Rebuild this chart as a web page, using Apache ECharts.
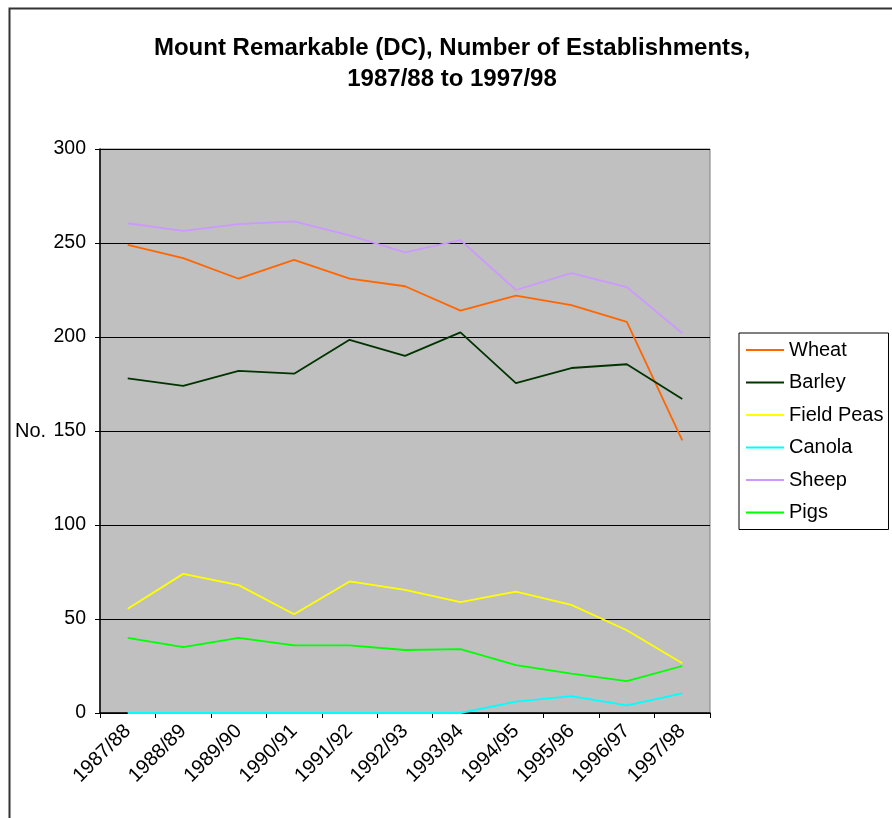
<!DOCTYPE html>
<html><head><meta charset="utf-8">
<script src="https://cdn.jsdelivr.net/npm/echarts@6/dist/echarts.min.js"></script>
<style>html,body{margin:0;padding:0;background:#fff}#c{width:892px;height:818px}</style>
</head><body><div id="c"></div>
<script>
var categories = ['1987/88','1988/89','1989/90','1990/91','1991/92','1992/93','1993/94','1994/95','1995/96','1996/97','1997/98'];
var wheat     = [249, 242, 231, 241, 231, 227, 214, 222, 217, 208, 145];
var barley    = [178, 174, 182, 180.5, 198.5, 190, 202.5, 175.5, 183.5, 185.5, 167];
var fieldPeas = [55.5, 74, 68, 52.5, 70, 65.5, 59, 64.5, 57.5, 44, 26.5];
var canola    = [0, 0, 0, 0, 0, 0, 0, 6, 9, 4, 10.5];
var sheep     = [260.5, 256.5, 260, 261.5, 254, 245, 251.5, 225, 234, 226.5, 202];
var pigs      = [40, 35, 40, 36, 36, 33.5, 34, 25.5, 21, 17, 25];
var yTicks = {min: 0, max: 300, interval: 50};

var FONT = '"Liberation Sans", Arial, sans-serif';
function mk(name, data, color) {
  return {name: name, type: 'line', data: data, symbol: 'none',
    lineStyle: {color: color, width: 1.8}, itemStyle: {color: color}, animation: false};
}
var chart = echarts.init(document.getElementById('c'), null, {renderer: 'canvas'});
chart.setOption({
  animation: false,
  title: {
    text: 'Mount Remarkable (DC), Number of Establishments,\n1987/88 to 1997/98',
    left: 447, textAlign: 'center', top: 28,
    textStyle: {fontFamily: FONT, fontSize: 24, fontWeight: 'bold', color: '#000', lineHeight: 31}
  },
  grid: {left: 100, top: 149, width: 610, height: 564, show: true,
    backgroundColor: '#c0c0c0', borderColor: '#808080', borderWidth: 1},
  legend: {
    orient: 'vertical', left: 739, top: 333,
    padding: [7, 5, 7, 7], borderColor: '#000', borderWidth: 1,
    icon: 'rect', itemWidth: 38, itemHeight: 1.8, itemGap: 12.5,
    textStyle: {fontFamily: FONT, fontSize: 20, lineHeight: 20, color: '#000', padding: [0, 0, 0, 0]},
    data: ['Wheat','Barley','Field Peas','Canola','Sheep','Pigs']
  },
  xAxis: {
    type: 'category', data: categories, boundaryGap: true,
    axisLine: {lineStyle: {color: '#000', width: 1.5}},
    axisTick: {show: true, interval: 0, length: 5, lineStyle: {color: '#000'}},
    axisLabel: {interval: 0, rotate: 45, margin: 15, fontFamily: FONT, fontSize: 20, color: '#000'},
    splitLine: {show: false}
  },
  yAxis: {
    type: 'value', min: yTicks.min, max: yTicks.max, interval: yTicks.interval,
    axisLine: {show: true, lineStyle: {color: '#000', width: 1.5}},
    axisTick: {show: true, length: 5, lineStyle: {color: '#000'}},
    axisLabel: {margin: 14, fontFamily: FONT, fontSize: 19.5, color: '#000'},
    splitLine: {show: true, lineStyle: {color: '#000', width: 1}}
  },
  graphic: [
    {type: 'rect', left: 7, top: 6, shape: {width: 1000, height: 1000},
      style: {fill: 'none', stroke: '#333', lineWidth: 2}, silent: true},
    {type: 'text', left: 15, top: 421,
      style: {text: 'No.', font: '20px ' + FONT, fill: '#000'}}
  ],
  series: [
    mk('Wheat', wheat, '#ff6600'),
    mk('Barley', barley, '#003300'),
    mk('Field Peas', fieldPeas, '#ffff00'),
    mk('Canola', canola, '#00ffff'),
    mk('Sheep', sheep, '#cc99ff'),
    mk('Pigs', pigs, '#00ff00')
  ]
});
</script></body></html>
